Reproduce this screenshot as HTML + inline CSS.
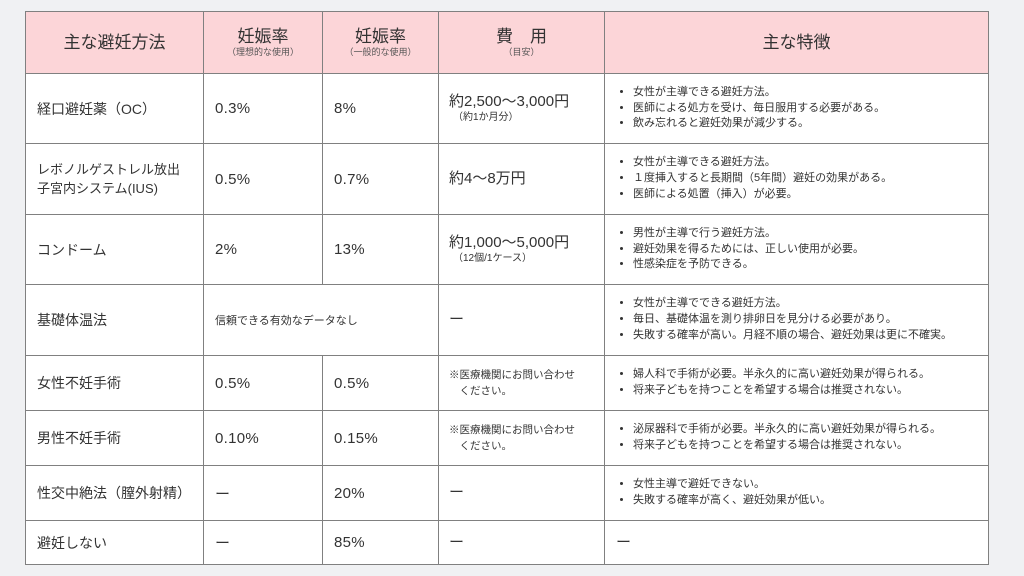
<!DOCTYPE html>
<html><head><meta charset="utf-8"><style>
body{margin:0;width:1024px;height:576px;background:#f0f1f3;font-family:"Liberation Sans","Noto Sans CJK JP",sans-serif;color:#333;overflow:hidden}
table{position:absolute;left:25px;top:11px;border-collapse:collapse;table-layout:fixed;background:#fff}
td,th{border:1.5px solid #808080;padding:0 0 0 11px;vertical-align:middle;text-align:left;font-weight:normal}
th{background:#fcd5d8;text-align:center;padding:0;font-size:17px;line-height:20px}
th small{display:block;font-size:9px;line-height:11px;color:#555}
.m{font-size:14px}
.p{font-size:15px;letter-spacing:0.3px}
.c{font-size:15px;line-height:18px}
.c small{display:block;font-size:10px;line-height:13px;padding-left:4px}
.n{font-size:10.5px;line-height:16px}
ul{margin:0;padding:0 0 0 17px;font-size:11px;line-height:15.7px}
</style></head><body>
<table>
<colgroup><col style="width:178px"><col style="width:119px"><col style="width:116px"><col style="width:166px"><col style="width:384px"></colgroup>
<tr style="height:62px"><th>主な避妊方法</th><th>妊娠率<small>（理想的な使用）</small></th><th>妊娠率<small>（一般的な使用）</small></th><th>費　用<small>（目安）</small></th><th>主な特徴</th></tr>
<tr style="height:70px"><td class="m">経口避妊薬（OC）</td><td class="p">0.3%</td><td class="p">8%</td><td class="c" style="padding-left:10px">約2,500～3,000円<small>（約1か月分）</small></td><td><ul><li>女性が主導できる避妊方法。</li><li>医師による処方を受け、毎日服用する必要がある。</li><li>飲み忘れると避妊効果が減少する。</li></ul></td></tr>
<tr style="height:71px"><td class="m" style="font-size:13px;line-height:19px">レボノルゲストレル放出<br>子宮内システム(IUS)</td><td class="p">0.5%</td><td class="p">0.7%</td><td class="c" style="padding-left:10px">約4～8万円</td><td><ul><li>女性が主導できる避妊方法。</li><li>１度挿入すると長期間（5年間）避妊の効果がある。</li><li>医師による処置（挿入）が必要。</li></ul></td></tr>
<tr style="height:70px"><td class="m">コンドーム</td><td class="p">2%</td><td class="p">13%</td><td class="c" style="padding-left:10px">約1,000～5,000円<small>（12個/1ケース）</small></td><td><ul><li>男性が主導で行う避妊方法。</li><li>避妊効果を得るためには、正しい使用が必要。</li><li>性感染症を予防できる。</li></ul></td></tr>
<tr style="height:71px"><td class="m">基礎体温法</td><td colspan="2" style="font-size:11px">信頼できる有効なデータなし</td><td class="c" style="padding-left:10px">ー</td><td><ul><li>女性が主導でできる避妊方法。</li><li>毎日、基礎体温を測り排卵日を見分ける必要があり。</li><li>失敗する確率が高い。月経不順の場合、避妊効果は更に不確実。</li></ul></td></tr>
<tr style="height:55px"><td class="m">女性不妊手術</td><td class="p">0.5%</td><td class="p">0.5%</td><td class="n" style="padding-left:10px">※医療機関にお問い合わせ<br>　ください。</td><td><ul><li>婦人科で手術が必要。半永久的に高い避妊効果が得られる。</li><li>将来子どもを持つことを希望する場合は推奨されない。</li></ul></td></tr>
<tr style="height:55px"><td class="m">男性不妊手術</td><td class="p">0.10%</td><td class="p">0.15%</td><td class="n" style="padding-left:10px">※医療機関にお問い合わせ<br>　ください。</td><td><ul><li>泌尿器科で手術が必要。半永久的に高い避妊効果が得られる。</li><li>将来子どもを持つことを希望する場合は推奨されない。</li></ul></td></tr>
<tr style="height:55px"><td class="m">性交中絶法（膣外射精）</td><td class="p">ー</td><td class="p">20%</td><td class="c" style="padding-left:10px">ー</td><td><ul><li>女性主導で避妊できない。</li><li>失敗する確率が高く、避妊効果が低い。</li></ul></td></tr>
<tr style="height:44px"><td class="m">避妊しない</td><td class="p">ー</td><td class="p">85%</td><td class="c" style="padding-left:10px">ー</td><td class="c">ー</td></tr>
</table>
</body></html>
